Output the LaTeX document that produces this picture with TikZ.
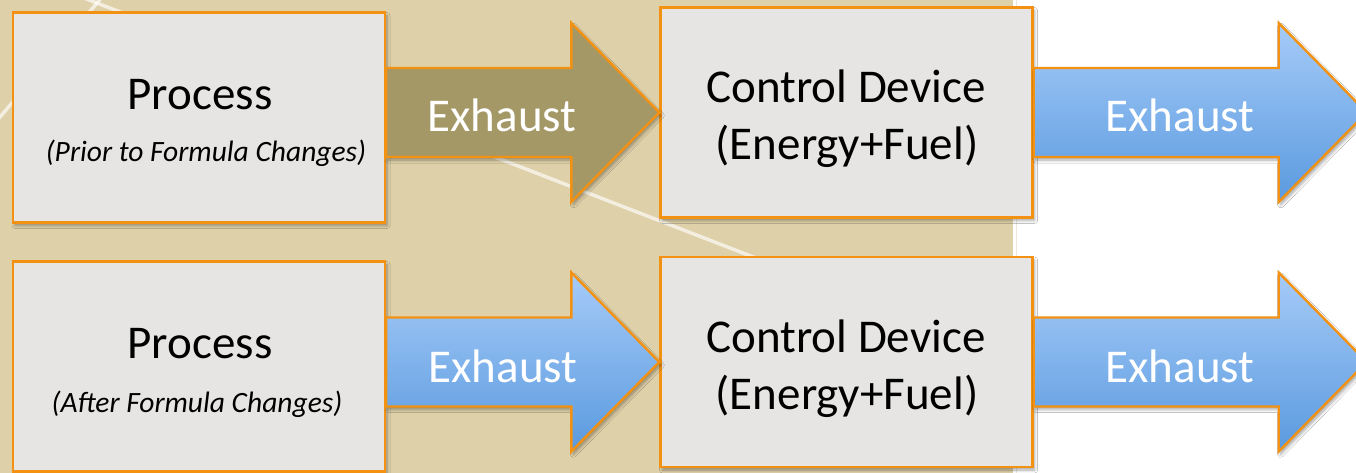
\documentclass[tikz,border=0pt]{standalone}
\usepackage{fontspec}
\setmainfont{Carlito}
\usetikzlibrary{calc,shadows.blur}

\definecolor{tan}{HTML}{DED0A8}
\definecolor{boxfill}{HTML}{E6E5E3}
\definecolor{rim}{HTML}{F29112}
\definecolor{olive}{HTML}{A59867}
\definecolor{skytop}{HTML}{A6CBF8}
\definecolor{skybot}{HTML}{5A9ADF}
\definecolor{seam}{HTML}{ECE7DA}

\tikzset{
  softshadow/.style={blur shadow={shadow xshift=2pt, shadow yshift=-3pt,
      shadow blur radius=3pt, shadow blur steps=6, shadow opacity=35}},
  stage/.style={draw=rim, line width=2.4pt, fill=boxfill, inner sep=0pt,
      minimum width=372pt, minimum height=210pt, softshadow},
  title/.style={font=\fontsize{47}{57}\selectfont, anchor=base, inner sep=0pt},
  note/.style={font=\fontsize{29.5}{35}\selectfont\itshape, anchor=base, inner sep=0pt},
  flowlabel/.style={title, text=white},
  oliveflow/.style={draw=rim, line width=2.4pt, line join=miter, fill=olive, softshadow},
  blueflow/.style={draw=rim, line width=2.4pt, line join=miter,
      top color=skytop, bottom color=skybot, softshadow},
  streak/.style={white, opacity=0.65, line width=3.5pt},
}

% block arrow: #1 style, #2 start point, #3 tip point (the arrow is centred on the tip's height)
\newcommand\flowarrow[3]{%
  \path[#1] let \p1=#2, \p2=#3 in
    (\x1,\y2+44.5pt) -- (\x2-88pt,\y2+44.5pt) -- (\x2-88pt,\y2+89.5pt) --
    (\x2,\y2) --
    (\x2-88pt,\y2-89.5pt) -- (\x2-88pt,\y2-44.5pt) -- (\x1,\y2-44.5pt) -- cycle;}

\begin{document}
\begin{tikzpicture}[x=1pt,y=-1pt]
  \useasboundingbox (0,0) rectangle (1356,473);
  \clip (0,0) rectangle (1356,473);

  % backdrop
  \fill[white] (0,0) rectangle (1356,473);
  \fill[tan] (0,0) rectangle (1013,473);
  \draw[seam, line width=1pt] (1016,0) -- (1016,473);
  \begin{scope}
    \clip (0,0) rectangle (1013,473);
    \draw[streak] (70,-7.4) -- (1013,357.5);
    \draw[streak] (109.8,-12) -- (-5,122.9);
  \end{scope}

  % stages
  \node[stage] (p1) at (199,117.5) {};
  \node[stage] (c1) at (846.5,112.5) {};
  \node[stage] (p2) at (199,366.5) {};
  \node[stage] (c2) at (846.5,362) {};

  \coordinate (out1) at ($(c1.east)+(333pt,0)$);
  \coordinate (out2) at ($(c2.east)+(333pt,0)$);

  % flows
  \flowarrow{oliveflow}{(p1.east)}{(c1.west)}
  \flowarrow{blueflow}{(c1.east)}{(out1)}
  \flowarrow{blueflow}{(p2.east)}{(c2.west)}
  \flowarrow{blueflow}{(c2.east)}{(out2)}

  % texts
  \node[title] (p1a) at (200,110) {Process};
  \node[note]  (p1b) at (206,162) {(Prior to Formula Changes)};
  \node[title] (c1a) at (846,103) {Control Device};
  \node[title] (c1b) at (847,160) {(Energy+Fuel)};
  \node[title] (p2a) at (200,358) {Process};
  \node[note]  (p2b) at (197,412) {(After Formula Changes)};
  \node[title] (c2a) at (846,352) {Control Device};
  \node[title] (c2b) at (847,409) {(Energy+Fuel)};

  \node[flowlabel] (e1) at (502,132) {Exhaust};
  \node[flowlabel] (e2) at (1180,132) {Exhaust};
  \node[flowlabel] (e3) at (503,382) {Exhaust};
  \node[flowlabel] (e4) at (1180,382) {Exhaust};
\end{tikzpicture}
\end{document}
